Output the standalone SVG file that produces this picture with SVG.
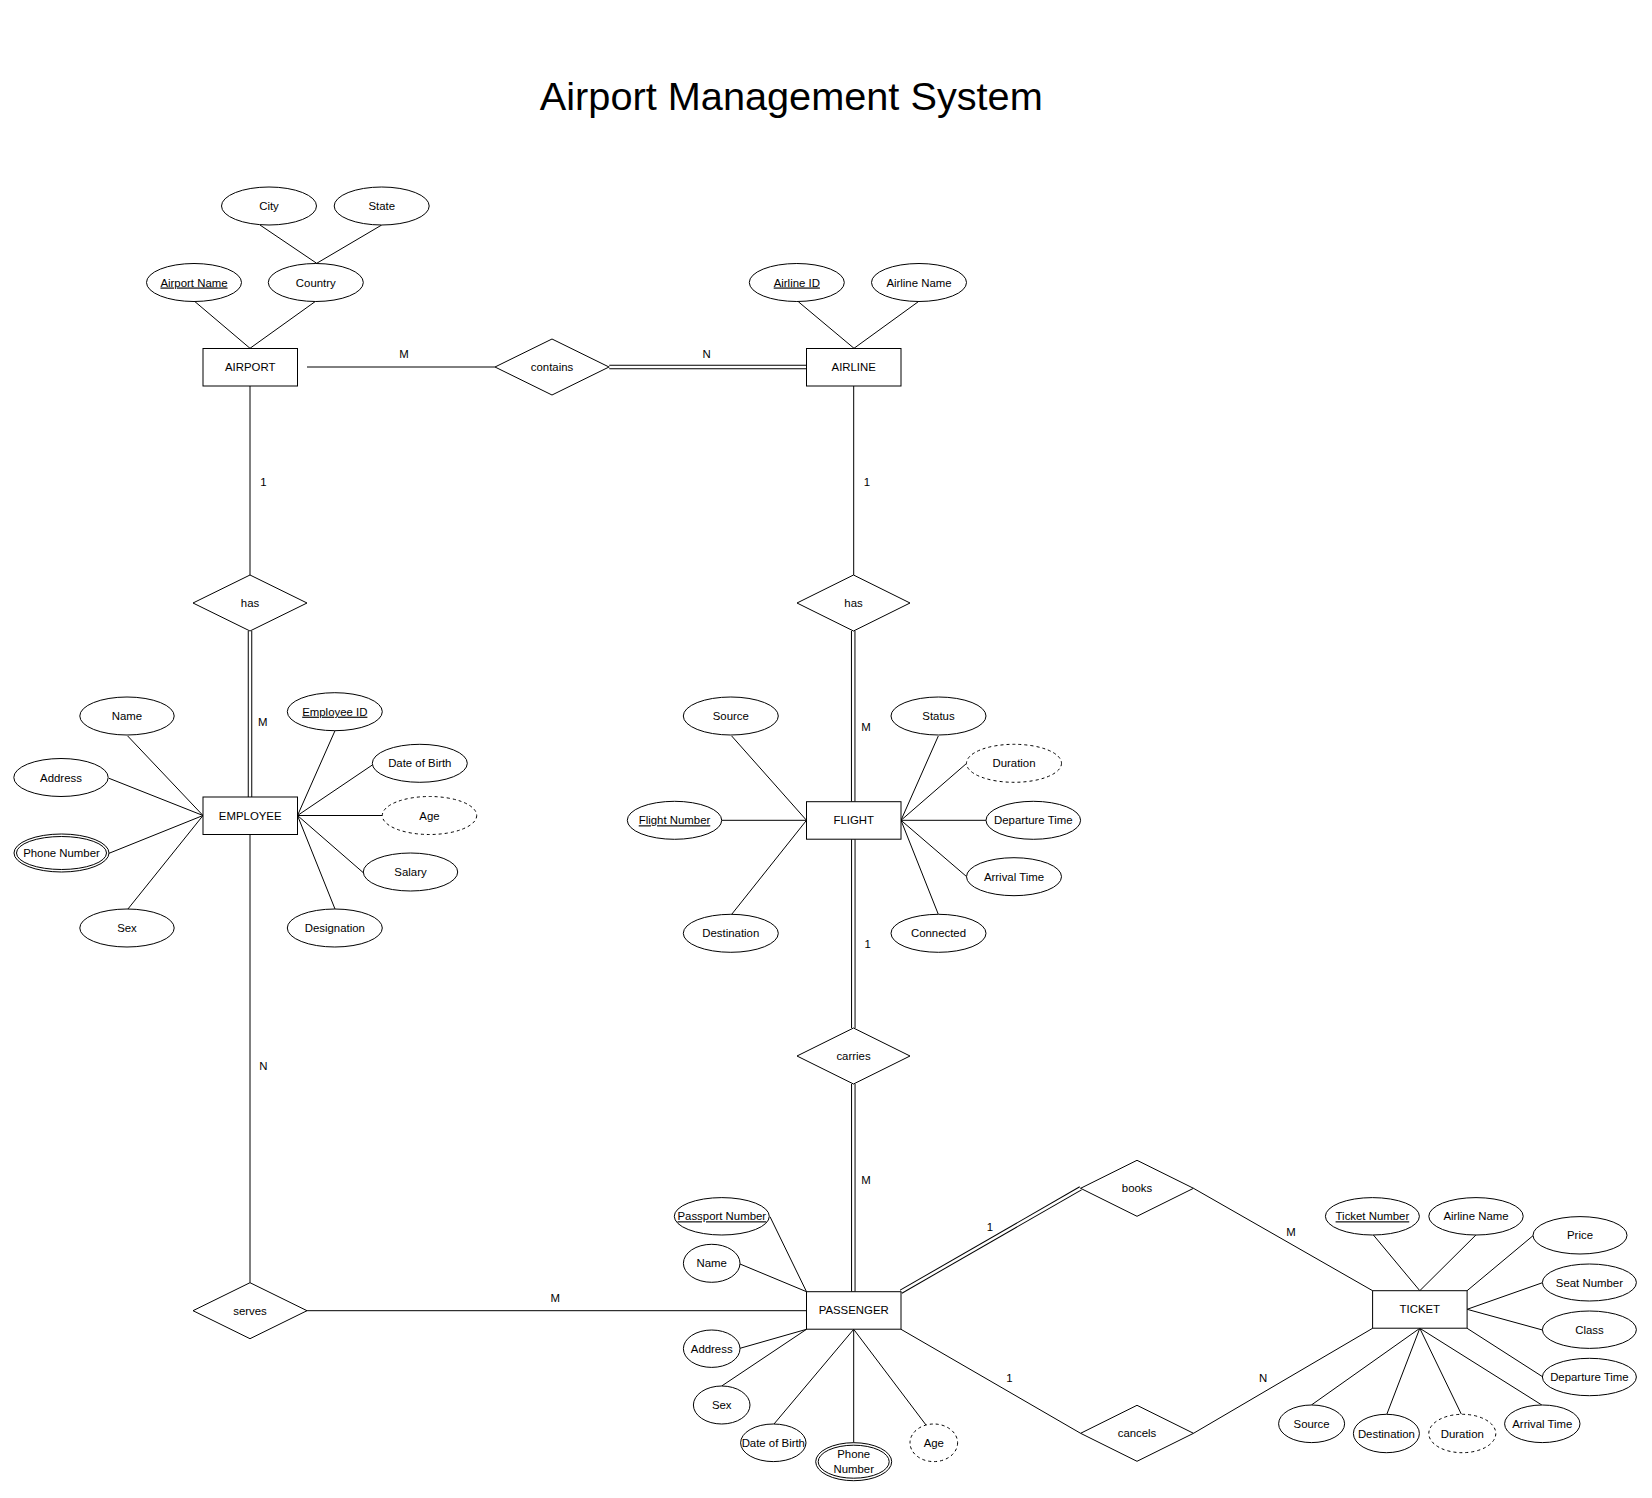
<svg xmlns="http://www.w3.org/2000/svg" width="1652" height="1498" viewBox="0 0 1652 1498">
<style>
text{font-family:"Liberation Sans",Arial,sans-serif;font-size:11.4px;fill:#000;text-anchor:middle}
.title{font-size:39.7px}
.u{text-decoration:underline}
.ent rect,.rel polygon,.att ellipse{fill:#fff;stroke:#000;stroke-width:1}
.dash ellipse{stroke-dasharray:3 3}
.ln{stroke:#000;stroke-width:1;fill:none}
.dbo{stroke:#000;stroke-width:4.5;fill:none}
.dbi{stroke:#fff;stroke-width:2.5;fill:none}
</style>
<rect width="1652" height="1498" fill="#fff"/>
<text class="title" x="791.3" y="110">Airport Management System</text>

<g id="connectors">
<!-- AIRPORT attributes -->
<line class="ln" x1="260" y1="225" x2="316.7" y2="263.3"/>
<line class="ln" x1="381.7" y1="225" x2="316.7" y2="263.3"/>
<line class="ln" x1="195" y1="301.7" x2="250" y2="348.3"/>
<line class="ln" x1="315" y1="301.7" x2="250" y2="348.3"/>
<!-- AIRLINE attributes -->
<line class="ln" x1="798.3" y1="301.7" x2="854" y2="348.3"/>
<line class="ln" x1="918.3" y1="301.7" x2="854" y2="348.3"/>
<!-- AIRPORT - contains - AIRLINE -->
<line class="ln" x1="307" y1="367" x2="495" y2="367"/>
<line class="dbo" x1="609.3" y1="367" x2="806.5" y2="367"/>
<line class="dbi" x1="609.3" y1="367" x2="806.5" y2="367"/>
<!-- AIRPORT - has - EMPLOYEE -->
<line class="ln" x1="250" y1="386" x2="250" y2="575"/>
<line class="dbo" x1="250" y1="631" x2="250" y2="797"/>
<line class="dbi" x1="250" y1="631" x2="250" y2="797"/>
<!-- AIRLINE - has - FLIGHT -->
<line class="ln" x1="853.7" y1="386" x2="853.7" y2="575"/>
<line class="dbo" x1="853.2" y1="631" x2="853.2" y2="801.7"/>
<line class="dbi" x1="853.2" y1="631" x2="853.2" y2="801.7"/>
<!-- FLIGHT - carries - PASSENGER -->
<line class="dbo" x1="853.3" y1="839.2" x2="853.3" y2="1028"/>
<line class="dbi" x1="853.3" y1="839.2" x2="853.3" y2="1028"/>
<line class="dbo" x1="853.3" y1="1084" x2="853.3" y2="1291.7"/>
<line class="dbi" x1="853.3" y1="1084" x2="853.3" y2="1291.7"/>
<!-- EMPLOYEE - serves - PASSENGER -->
<line class="ln" x1="250" y1="834.5" x2="250" y2="1282.7"/>
<line class="ln" x1="306.7" y1="1310.7" x2="806.5" y2="1310.7"/>
<!-- PASSENGER - books/cancels - TICKET -->
<line class="dbo" x1="901" y1="1291.7" x2="1080.6" y2="1188.3"/>
<line class="dbi" x1="901" y1="1291.7" x2="1080.6" y2="1188.3"/>
<line class="ln" x1="1193.5" y1="1188.3" x2="1372.6" y2="1290.7"/>
<line class="ln" x1="901" y1="1329.3" x2="1080.6" y2="1433.3"/>
<line class="ln" x1="1193.5" y1="1433.3" x2="1372.6" y2="1328.3"/>
<!-- EMPLOYEE attributes -->
<line class="ln" x1="127.7" y1="736" x2="203" y2="815.5"/>
<line class="ln" x1="109" y1="778.3" x2="203" y2="815.5"/>
<line class="ln" x1="109" y1="853.3" x2="203" y2="815.5"/>
<line class="ln" x1="127.7" y1="909.3" x2="203" y2="815.5"/>
<line class="ln" x1="335" y1="730.7" x2="297.5" y2="815.5"/>
<line class="ln" x1="372.3" y1="765" x2="297.5" y2="815.5"/>
<line class="ln" x1="382.3" y1="815.5" x2="297.5" y2="815.5"/>
<line class="ln" x1="363.3" y1="872.7" x2="297.5" y2="815.5"/>
<line class="ln" x1="335" y1="909" x2="297.5" y2="815.5"/>
<!-- FLIGHT attributes -->
<line class="ln" x1="731.7" y1="736" x2="806.5" y2="820.3"/>
<line class="ln" x1="721.7" y1="820.3" x2="806.5" y2="820.3"/>
<line class="ln" x1="731.7" y1="914.3" x2="806.5" y2="820.3"/>
<line class="ln" x1="938.3" y1="736" x2="901" y2="820.3"/>
<line class="ln" x1="966.7" y1="763.3" x2="901" y2="820.3"/>
<line class="ln" x1="986" y1="820.3" x2="901" y2="820.3"/>
<line class="ln" x1="966.7" y1="876.7" x2="901" y2="820.3"/>
<line class="ln" x1="938.3" y1="914.3" x2="901" y2="820.3"/>
<!-- PASSENGER attributes -->
<line class="ln" x1="770" y1="1216.7" x2="806.5" y2="1291.7"/>
<line class="ln" x1="740" y1="1264" x2="806.5" y2="1291.7"/>
<line class="ln" x1="740" y1="1348.3" x2="806.5" y2="1329.3"/>
<line class="ln" x1="721.7" y1="1386" x2="806.5" y2="1329.3"/>
<line class="ln" x1="774" y1="1424" x2="853.7" y2="1329.3"/>
<line class="ln" x1="853.7" y1="1442.7" x2="853.7" y2="1329.3"/>
<line class="ln" x1="926" y1="1425" x2="853.7" y2="1329.3"/>
<!-- TICKET attributes -->
<line class="ln" x1="1373.4" y1="1235" x2="1419.8" y2="1290.7"/>
<line class="ln" x1="1475.9" y1="1235" x2="1419.8" y2="1290.7"/>
<line class="ln" x1="1533" y1="1235.7" x2="1467.1" y2="1290.7"/>
<line class="ln" x1="1542.5" y1="1282.7" x2="1467.1" y2="1309.3"/>
<line class="ln" x1="1542.5" y1="1330" x2="1467.1" y2="1309.3"/>
<line class="ln" x1="1542.5" y1="1376.7" x2="1467.1" y2="1328.3"/>
<line class="ln" x1="1541.8" y1="1405" x2="1419.8" y2="1328.3"/>
<line class="ln" x1="1311.4" y1="1405" x2="1419.8" y2="1328.3"/>
<line class="ln" x1="1386.8" y1="1414.3" x2="1419.8" y2="1328.3"/>
<line class="ln" x1="1461.4" y1="1414.3" x2="1419.8" y2="1328.3"/>
<!-- cardinality labels -->
<text x="404" y="358">M</text>
<text x="706.7" y="358">N</text>
<text x="263.4" y="485.5">1</text>
<text x="867" y="485.5">1</text>
<text x="262.7" y="725.7">M</text>
<text x="866" y="731.3">M</text>
<text x="867.7" y="948">1</text>
<text x="263.4" y="1070">N</text>
<text x="866" y="1184">M</text>
<text x="555.2" y="1302">M</text>
<text x="990" y="1231.3">1</text>
<text x="1291" y="1235.7">M</text>
<text x="1009.3" y="1382">1</text>
<text x="1263" y="1382.3">N</text>
</g>

<!-- Entities -->
<g id="airport" class="ent"><rect x="203" y="348.5" width="94.5" height="37.5"/><text x="250.2" y="371.2">AIRPORT</text></g>
<g id="airline" class="ent"><rect x="806.5" y="348.5" width="94.5" height="37.5"/><text x="853.7" y="371.2">AIRLINE</text></g>
<g id="employee" class="ent"><rect x="203" y="797" width="94.5" height="37.5"/><text x="250.2" y="819.7">EMPLOYEE</text></g>
<g id="flight" class="ent"><rect x="806.5" y="801.7" width="94.5" height="37.5"/><text x="853.7" y="824.4">FLIGHT</text></g>
<g id="passenger" class="ent"><rect x="806.5" y="1291.7" width="94.5" height="37.5"/><text x="853.7" y="1314.4">PASSENGER</text></g>
<g id="ticket" class="ent"><rect x="1372.6" y="1290.7" width="94.5" height="37.5"/><text x="1419.8" y="1313.4">TICKET</text></g>

<!-- Relationships -->
<g id="contains" class="rel"><polygon points="495,367 552,339 609,367 552,395"/><text x="552" y="371">contains</text></g>
<g id="has-airport" class="rel"><polygon points="193,603 250,575 307,603 250,631"/><text x="250" y="607">has</text></g>
<g id="has-airline" class="rel"><polygon points="797,603 853.5,575 910,603 853.5,631"/><text x="853.5" y="607">has</text></g>
<g id="carries" class="rel"><polygon points="797,1056 853.5,1028 910,1056 853.5,1084"/><text x="853.5" y="1060">carries</text></g>
<g id="serves" class="rel"><polygon points="193,1310.7 250,1282.7 307,1310.7 250,1338.7"/><text x="250" y="1314.7">serves</text></g>
<g id="books" class="rel"><polygon points="1080.6,1188.3 1137,1160.3 1193.5,1188.3 1137,1216.3"/><text x="1137" y="1192.3">books</text></g>
<g id="cancels" class="rel"><polygon points="1080.6,1433.3 1137,1405.3 1193.5,1433.3 1137,1461.3"/><text x="1137" y="1437.3">cancels</text></g>

<!-- Attributes: AIRPORT -->
<g id="a-city" class="att"><ellipse cx="269" cy="206" rx="47.5" ry="19"/><text x="269" y="210">City</text></g>
<g id="a-state" class="att"><ellipse cx="381.7" cy="206" rx="47.5" ry="19"/><text x="381.7" y="210">State</text></g>
<g id="a-airportname" class="att"><ellipse cx="194" cy="282.5" rx="47.5" ry="19"/><text class="u" x="194" y="286.5">Airport Name</text></g>
<g id="a-country" class="att"><ellipse cx="315.8" cy="282.5" rx="47.5" ry="19"/><text x="315.8" y="286.5">Country</text></g>
<!-- AIRLINE -->
<g id="a-airlineid" class="att"><ellipse cx="796.8" cy="282.5" rx="47.5" ry="19"/><text class="u" x="796.8" y="286.5">Airline ID</text></g>
<g id="a-airlinename" class="att"><ellipse cx="919" cy="282.5" rx="47.5" ry="19"/><text x="919" y="286.5">Airline Name</text></g>
<!-- EMPLOYEE -->
<g id="e-name" class="att"><ellipse cx="127" cy="716" rx="47.2" ry="19"/><text x="127" y="720">Name</text></g>
<g id="e-address" class="att"><ellipse cx="61" cy="777.5" rx="47.2" ry="19"/><text x="61" y="781.5">Address</text></g>
<g id="e-phone" class="att"><ellipse cx="61.5" cy="853" rx="47.5" ry="19"/><ellipse cx="61.5" cy="853" rx="45" ry="16.5"/><text x="61.5" y="857">Phone Number</text></g>
<g id="e-sex" class="att"><ellipse cx="127" cy="928" rx="47.2" ry="19"/><text x="127" y="932">Sex</text></g>
<g id="e-id" class="att"><ellipse cx="334.8" cy="711.7" rx="47.5" ry="19"/><text class="u" x="334.8" y="715.7">Employee ID</text></g>
<g id="e-dob" class="att"><ellipse cx="419.8" cy="763.3" rx="47.5" ry="19"/><text x="419.8" y="767.3">Date of Birth</text></g>
<g id="e-age" class="att dash"><ellipse cx="429.5" cy="815.5" rx="47.2" ry="19"/><text x="429.5" y="819.5">Age</text></g>
<g id="e-salary" class="att"><ellipse cx="410.5" cy="872" rx="47.2" ry="19"/><text x="410.5" y="876">Salary</text></g>
<g id="e-designation" class="att"><ellipse cx="334.8" cy="928" rx="47.5" ry="19"/><text x="334.8" y="932">Designation</text></g>
<!-- FLIGHT -->
<g id="f-source" class="att"><ellipse cx="730.8" cy="716" rx="47.5" ry="19"/><text x="730.8" y="720">Source</text></g>
<g id="f-number" class="att"><ellipse cx="674.5" cy="820.3" rx="47.2" ry="19"/><text class="u" x="674.5" y="824.3">Flight Number</text></g>
<g id="f-destination" class="att"><ellipse cx="730.8" cy="933.3" rx="47.5" ry="19"/><text x="730.8" y="937.3">Destination</text></g>
<g id="f-status" class="att"><ellipse cx="938.5" cy="716" rx="47.5" ry="19"/><text x="938.5" y="720">Status</text></g>
<g id="f-duration" class="att dash"><ellipse cx="1014" cy="763.3" rx="47.5" ry="19"/><text x="1014" y="767.3">Duration</text></g>
<g id="f-departure" class="att"><ellipse cx="1033.3" cy="820.3" rx="47.3" ry="19"/><text x="1033.3" y="824.3">Departure Time</text></g>
<g id="f-arrival" class="att"><ellipse cx="1014" cy="876.7" rx="47.5" ry="19"/><text x="1014" y="880.7">Arrival Time</text></g>
<g id="f-connected" class="att"><ellipse cx="938.5" cy="933.3" rx="47.5" ry="19"/><text x="938.5" y="937.3">Connected</text></g>
<!-- PASSENGER -->
<g id="p-passport" class="att"><ellipse cx="721.8" cy="1216.3" rx="47.5" ry="18.7"/><text class="u" x="721.8" y="1220.3">Passport Number</text></g>
<g id="p-name" class="att"><ellipse cx="711.7" cy="1263.3" rx="28.3" ry="19"/><text x="711.7" y="1267.3">Name</text></g>
<g id="p-address" class="att"><ellipse cx="711.7" cy="1348.7" rx="28.3" ry="18.7"/><text x="711.7" y="1352.7">Address</text></g>
<g id="p-sex" class="att"><ellipse cx="721.7" cy="1405" rx="28.3" ry="19"/><text x="721.7" y="1409">Sex</text></g>
<g id="p-dob" class="att"><ellipse cx="773.3" cy="1442.8" rx="32.7" ry="18.8"/><text x="773.3" y="1446.8">Date of Birth</text></g>
<g id="p-phone" class="att"><ellipse cx="853.7" cy="1461.7" rx="38" ry="19"/><ellipse cx="853.7" cy="1461.7" rx="35.5" ry="16.5"/><text x="853.7" y="1458">Phone</text><text x="853.7" y="1473">Number</text></g>
<g id="p-age" class="att dash"><ellipse cx="933.8" cy="1442.8" rx="23.8" ry="18.8"/><text x="933.8" y="1446.8">Age</text></g>
<!-- TICKET -->
<g id="t-number" class="att"><ellipse cx="1372.4" cy="1216.3" rx="47" ry="18.7"/><text class="u" x="1372.4" y="1220.3">Ticket Number</text></g>
<g id="t-airline" class="att"><ellipse cx="1476" cy="1216.3" rx="47.2" ry="18.7"/><text x="1476" y="1220.3">Airline Name</text></g>
<g id="t-price" class="att"><ellipse cx="1580" cy="1235.3" rx="47" ry="18.7"/><text x="1580" y="1239.3">Price</text></g>
<g id="t-seat" class="att"><ellipse cx="1589.4" cy="1282.5" rx="47" ry="18.5"/><text x="1589.4" y="1286.5">Seat Number</text></g>
<g id="t-class" class="att"><ellipse cx="1589.4" cy="1329.7" rx="47" ry="18.7"/><text x="1589.4" y="1333.7">Class</text></g>
<g id="t-departure" class="att"><ellipse cx="1589.4" cy="1377" rx="47" ry="18.7"/><text x="1589.4" y="1381">Departure Time</text></g>
<g id="t-arrival" class="att"><ellipse cx="1542.3" cy="1423.8" rx="37.7" ry="18.8"/><text x="1542.3" y="1427.8">Arrival Time</text></g>
<g id="t-source" class="att"><ellipse cx="1311.6" cy="1423.8" rx="33" ry="18.8"/><text x="1311.6" y="1427.8">Source</text></g>
<g id="t-destination" class="att"><ellipse cx="1386.4" cy="1433.5" rx="33" ry="19.2"/><text x="1386.4" y="1437.5">Destination</text></g>
<g id="t-duration" class="att dash"><ellipse cx="1462.3" cy="1433.5" rx="33.5" ry="19.2"/><text x="1462.3" y="1437.5">Duration</text></g>
</svg>
